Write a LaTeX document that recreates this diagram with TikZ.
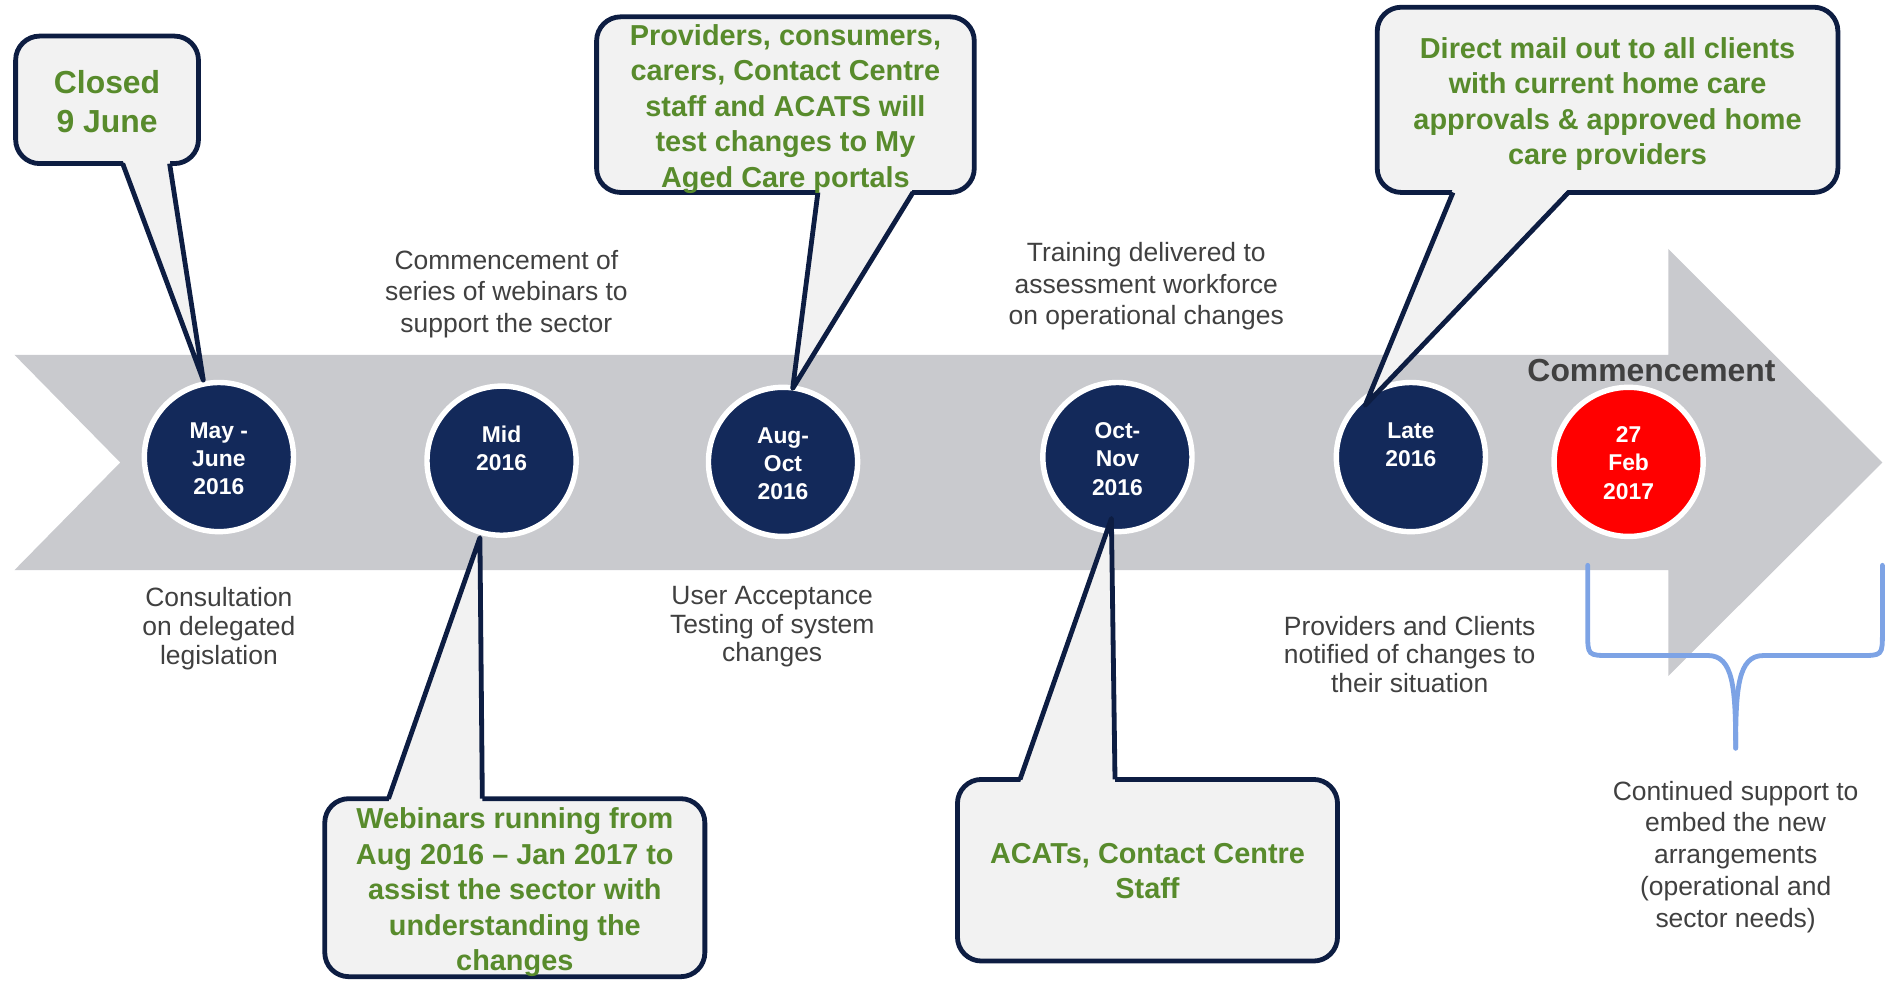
\documentclass[tikz,border=0pt]{standalone}
\usepackage{fontspec}
\setmainfont{Liberation Sans}
\usetikzlibrary{calc}
\definecolor{cnavy}{RGB}{19,41,90}
\definecolor{clinecol}{RGB}{13,29,66}
\definecolor{cfillcol}{RGB}{242,242,242}
\definecolor{bandcol}{RGB}{201,202,206}
\definecolor{cgreen}{RGB}{88,139,44}
\definecolor{dgrey}{RGB}{64,64,64}
\definecolor{bracecol}{RGB}{125,163,229}
\definecolor{cred}{RGB}{255,0,0}
\begin{document}
\begin{tikzpicture}[x=1pt,y=-1pt,
  datedot/.style={circle, draw=white, line width=4.5pt, minimum size=124pt, inner sep=0pt},
  datetxt/.style={text=white, font=\bfseries\fontsize{19}{23.5}\selectfont, align=center, inner sep=0pt},
  notetxt/.style={text=dgrey, font=\fontsize{22}{26.5}\selectfont, align=center, inner sep=0pt},
  cbox/.style={draw=clinecol, fill=cfillcol, line width=4pt, rounded corners=20pt, inner sep=0pt},
  greentxt/.style={align=center, text=cgreen, inner sep=0pt, font=\bfseries\fontsize{24}{29.5}\selectfont},
  cptr/.style={draw=clinecol, line width=4pt, line join=round},
  cptrfill/.style={fill=cfillcol},
  bracestyle/.style={draw=bracecol, line width=4pt, line cap=round},
]
\useasboundingbox (0,0) rectangle (1568,816);

% timeline band
\fill[bandcol] (12,295) -- (1387,295) -- (1387,207) -- (1565,384.5) -- (1387,562)
  -- (1387,474) -- (12,474) -- (100,384.5) -- cycle;

% date circles
\node[datedot, fill=cnavy] (c1) at (182,380) {};
\node[datedot, fill=cnavy] (c2) at (417,383) {};
\node[datedot, fill=cnavy] (c3) at (651,384) {};
\node[datedot, fill=cnavy] (c4) at (929,380) {};
\node[datedot, fill=cnavy] (c5) at (1173,380) {};
\node[datedot, fill=cred]  (c6) at (1354,384) {};

\node[datetxt] (d1) at (182,381.5) {May -\\June\\2016};
\node[datetxt] (d2) at (417,373) {Mid\\2016};
\node[datetxt] (d3) at (651,385.5) {Aug-\\Oct\\2016};
\node[datetxt] (d4) at (929,381.5) {Oct-\\Nov\\2016};
\node[datetxt] (d5) at (1173,369.5) {Late\\2016};
\node[datetxt] (d6) at (1354,385) {27\\Feb\\2017};

% grey notes
\node[notetxt] (n1) at (421,244.5) {Commencement of\\series of webinars to\\support the sector};
\node[notetxt] (n2) at (953,238) {Training delivered to\\assessment workforce\\on operational changes};
\node[notetxt, font=\fontsize{22}{24}\selectfont] (n3) at (182,522.5) {Consultation\\on delegated\\legislation};
\node[notetxt, font=\fontsize{22}{24}\selectfont] (n4) at (642,521) {User Acceptance\\Testing of system\\changes};
\node[notetxt, font=\fontsize{22}{23.5}\selectfont] (n5) at (1172,544) {Providers and Clients\\notified of changes to\\their situation};
\node[notetxt] (n6) at (1443,712.5) {Continued support to\\embed the new\\arrangements\\(operational and\\sector needs)};

% callout 1
\node[cbox, minimum width=152pt, minimum height=106pt] (b1) at (89,83) {};
\coordinate (b1l) at (102,136);
\coordinate (b1r) at (141,136);
\coordinate (p1) at ($(c1)+(-13,-64)$);
\fill[cptrfill] ($(b1l)+(0,-3)$) -- (p1) -- ($(b1r)+(0,-3)$) -- cycle;
\draw[cptr] (b1l) -- (p1) -- (b1r);
\node[greentxt, font=\bfseries\fontsize{26.5}{32}\selectfont] (g1) at (89,84.5) {Closed\\9 June};

% callout 2
\node[cbox, minimum width=314pt, minimum height=146pt] (b2) at (653,87) {};
\coordinate (b2l) at (680,160);
\coordinate (b2r) at (759,160);
\coordinate (p2) at ($(c3)+(8,-61)$);
\fill[cptrfill] ($(b2l)+(0,-3)$) -- (p2) -- ($(b2r)+(0,-3)$) -- cycle;
\draw[cptr] (b2l) -- (p2) -- (b2r);
\node[greentxt] (g2) at (653,90.5) {Providers, consumers,\\carers, Contact Centre\\staff and ACATS will\\test changes to My\\Aged Care portals};

% callout 3
\node[cbox, minimum width=383pt, minimum height=154pt] (b3) at (1336.5,83) {};
\coordinate (b3l) at (1208,160);
\coordinate (b3r) at (1304,160);
\coordinate (p3) at ($(c5)+(-38,-43)$);
\fill[cptrfill] ($(b3l)+(0,-3)$) -- (p3) -- ($(b3r)+(0,-3)$) -- cycle;
\draw[cptr] (b3l) -- (p3) -- (b3r);
\node[greentxt] (g3) at (1336.5,86.5) {Direct mail out to all clients\\with current home care\\approvals \& approved home\\care providers};

% callout 4
\node[cbox, minimum width=316pt, minimum height=148pt] (b4) at (428,738) {};
\coordinate (b4l) at (323,664);
\coordinate (b4r) at (401,664);
\coordinate (p4) at ($(c2)+(-18,64)$);
\fill[cptrfill] ($(b4l)+(0,3)$) -- (p4) -- ($(b4r)+(0,3)$) -- cycle;
\draw[cptr] (b4l) -- (p4) -- (b4r);
\node[greentxt] (g4) at (428,742) {Webinars running from\\Aug 2016 – Jan 2017 to\\assist the sector with\\understanding the\\changes};

% callout 5
\node[cbox, minimum width=316pt, minimum height=151pt] (b5) at (954,723.5) {};
\coordinate (b5l) at (848,648);
\coordinate (b5r) at (927,648);
\coordinate (p5) at ($(c4)+(-5,51)$);
\fill[cptrfill] ($(b5l)+(0,3)$) -- (p5) -- ($(b5r)+(0,3)$) -- cycle;
\draw[cptr] (b5l) -- (p5) -- (b5r);
\node[greentxt] (g5) at (954,724) {ACATs, Contact Centre\\Staff};

% brace
\coordinate (brl) at (1320,470);
\coordinate (brr) at (1565,470);
\coordinate (brt) at (1443,622);
\draw[bracestyle] (brl) -- (1320,526) .. controls (1320,545) .. (1339,545) -- (1420,545)
  .. controls (1441,545) and (1443,572) .. (brt);
\draw[bracestyle] (brr) -- (1565,526) .. controls (1565,545) .. (1546,545) -- (1466,545)
  .. controls (1445,545) and (1443,572) .. (brt);

% commencement label
\node[text=dgrey, font=\bfseries\fontsize{26.5}{30}\selectfont, inner sep=0pt, anchor=base] (cm) at (1373,317) {Commencement};
\end{tikzpicture}
\end{document}
